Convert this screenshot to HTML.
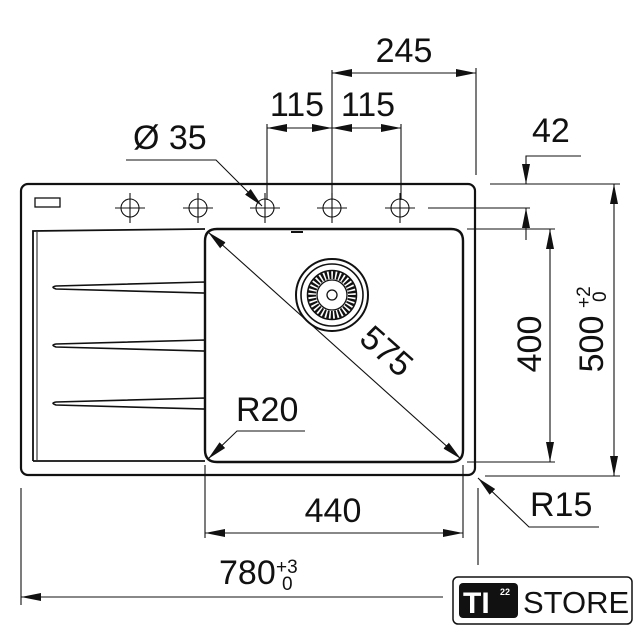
<!DOCTYPE html>
<html><head><meta charset="utf-8"><style>
html,body{margin:0;padding:0;background:#fff;}
svg{display:block;}
text{font-family:"Liberation Sans",Arial,sans-serif;fill:#111;}
</style></head><body>
<svg width="640" height="640" viewBox="0 0 640 640" xmlns="http://www.w3.org/2000/svg">
<defs>
<marker id="a" viewBox="0 0 20 8" refX="20" refY="4" markerWidth="20" markerHeight="8" markerUnits="userSpaceOnUse" orient="auto-start-reverse">
<path d="M0,0 L20,4 L0,8 z" fill="#111"/></marker>
</defs>
<g stroke="#111" fill="none">
<rect x="21" y="184" width="454" height="291" rx="7" stroke-width="2.2"/>
<rect x="35" y="198" width="25" height="9" stroke-width="1.3"/>
<g stroke-width="1.1">
<circle cx="130" cy="208" r="9"/><path d="M115 208h30M130 193v30"/>
<circle cx="198" cy="208" r="9"/><path d="M183 208h30M198 193v30"/>
<circle cx="265" cy="208" r="9"/><path d="M250 208h30M265 193v30"/>
<circle cx="332" cy="208" r="9"/><path d="M317 208h30M332 193v30"/>
<circle cx="400" cy="208" r="9"/><path d="M385 208h30M400 193v30"/>
</g>
<path d="M33 461 V231 L205 229" stroke-width="1.8"/>
<path d="M37 460 V232" stroke-width="1"/>
<path d="M33 461 L205 461" stroke-width="1.8"/>
<g fill="#fff" stroke-width="1.6">
<path d="M205 282 L56 286 Q50 287 56 289 L205 293 Z"/>
<path d="M205 340 L56 344 Q50 345 56 347 L205 351 Z"/>
<path d="M205 398 L56 402 Q50 403 56 405 L205 409 Z"/>
</g>
<path d="M217 229 H451 Q463 229 463 241 V450 Q463 462 451 462 H217 Q205 462 205 450 V241 Q205 229 217 229 Z" stroke-width="2.4"/>
<path d="M291 232 H303" stroke-width="2"/>
<circle cx="332" cy="295" r="36" stroke-width="2"/>
<circle cx="332" cy="295" r="31" stroke-width="1.6"/>
<circle cx="332" cy="295" r="20" stroke-width="8" stroke-dasharray="2.2 1.6"/>
<circle cx="332" cy="295" r="24.5" stroke-width="1.5"/>
<circle cx="332" cy="295" r="15" stroke-width="1.3"/>
<circle cx="332" cy="295" r="5" stroke-width="1.3"/>
<g stroke-width="1.1">
<path d="M332 70V200 M476 68V175"/>
<path d="M332 73H476" marker-start="url(#a)" marker-end="url(#a)"/>
<path d="M267 124V200 M401 124V200"/>
<path d="M267 128H332" marker-start="url(#a)" marker-end="url(#a)"/>
<path d="M332 128H401" marker-start="url(#a)" marker-end="url(#a)"/>
<path d="M126 160H216 L262 206" marker-end="url(#a)"/>
<path d="M581 156H526V184" marker-end="url(#a)"/>
<path d="M526 240V208" marker-end="url(#a)"/>
<path d="M490 184H620 M428 208H530 M467 229H555 M467 462H555 M485 476H620"/>
<path d="M550 229V462" marker-start="url(#a)" marker-end="url(#a)"/>
<path d="M614 184V476" marker-start="url(#a)" marker-end="url(#a)"/>
<path d="M208 232L461 459" marker-start="url(#a)" marker-end="url(#a)"/>
<path d="M305 431H237L208 459" marker-end="url(#a)"/>
<path d="M205 465V538 M463 465V538"/>
<path d="M205 533H463" marker-start="url(#a)" marker-end="url(#a)"/>
<path d="M21 488V605 M478 488V565"/>
<path d="M443 597H21" marker-end="url(#a)"/>
<path d="M599 527H529L478 478" marker-end="url(#a)"/>
</g>
</g>
<g font-size="34">
<text x="404" y="62" text-anchor="middle">245</text>
<text x="297" y="116" text-anchor="middle">115</text>
<text x="368" y="116" text-anchor="middle">115</text>
<text x="133" y="149">Ø 35</text>
<text x="532" y="142">42</text>
<text x="333" y="522" text-anchor="middle">440</text>
<text x="219" y="584">780</text>
<text x="530" y="516">R15</text>
<text x="236" y="421">R20</text>
<text transform="translate(541,344) rotate(-90)" text-anchor="middle">400</text>
<text transform="translate(603,344) rotate(-90)" text-anchor="middle">500</text>
<text transform="translate(385,353) rotate(41.5)" text-anchor="middle" dominant-baseline="middle">575</text>
</g>
<text x="276" y="573" font-size="19">+3</text>
<text x="282" y="590" font-size="19">0</text>
<text transform="translate(590,308) rotate(-90)" font-size="19">+2</text>
<text transform="translate(606,302) rotate(-90)" font-size="19">0</text>
<rect x="453" y="577" width="179" height="47" rx="5" fill="#fff" stroke="#111" stroke-width="1.5"/>
<rect x="459" y="583" width="59" height="35" rx="4" fill="#111"/>
<text x="463" y="613" font-size="30" font-weight="bold" style="fill:#fff">TI</text>
<text x="500" y="595" font-size="9" font-weight="bold" style="fill:#fff">22</text>
<text x="523" y="613" font-size="31">STORE</text>
</svg>
</body></html>
